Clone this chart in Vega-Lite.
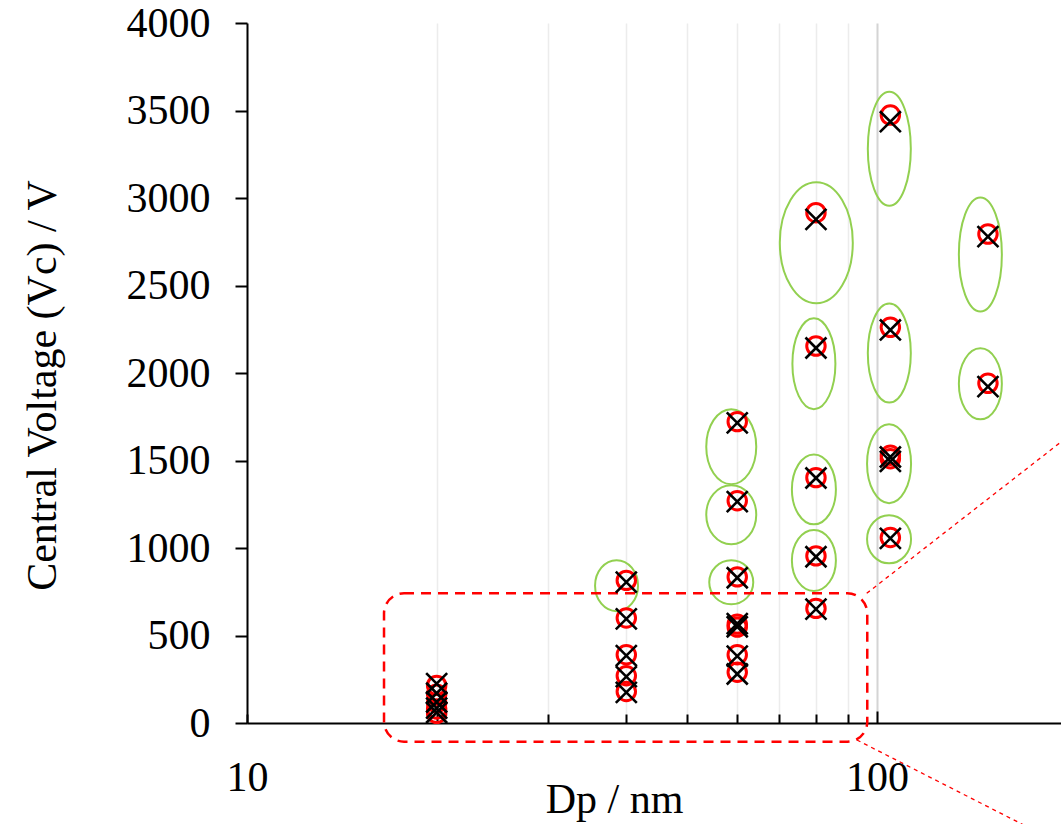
{
  "$schema": "https://vega.github.io/schema/vega-lite/v6.json",
  "autosize": {"type": "none"},
  "padding": {"left": 247, "top": 23, "right": 0, "bottom": 101},
  "width": 814,
  "height": 700,
  "background": "white",
  "config": {"view": {"stroke": null}, "font": "Liberation Serif"},
  "datasets": {
    "pts": [
      {"Dp": 20, "V": 215, "series": "circle"}, {"Dp": 20, "V": 165, "series": "circle"}, {"Dp": 20, "V": 115, "series": "circle"}, {"Dp": 20, "V": 80, "series": "circle"}, {"Dp": 20, "V": 55, "series": "circle"},
      {"Dp": 40, "V": 815, "series": "circle"}, {"Dp": 40, "V": 600, "series": "circle"}, {"Dp": 40, "V": 390, "series": "circle"}, {"Dp": 40, "V": 270, "series": "circle"}, {"Dp": 40, "V": 180, "series": "circle"},
      {"Dp": 60, "V": 1722, "series": "circle"}, {"Dp": 60, "V": 1270, "series": "circle"}, {"Dp": 60, "V": 835, "series": "circle"}, {"Dp": 60, "V": 565, "series": "circle"}, {"Dp": 60, "V": 548, "series": "circle"}, {"Dp": 60, "V": 390, "series": "circle"}, {"Dp": 60, "V": 290, "series": "circle"},
      {"Dp": 80, "V": 2916, "series": "circle"}, {"Dp": 80, "V": 2154, "series": "circle"}, {"Dp": 80, "V": 1402, "series": "circle"}, {"Dp": 80, "V": 955, "series": "circle"}, {"Dp": 80, "V": 655, "series": "circle"},
      {"Dp": 105, "V": 3474, "series": "circle"}, {"Dp": 105, "V": 2261, "series": "circle"}, {"Dp": 105, "V": 1530, "series": "circle"}, {"Dp": 105, "V": 1510, "series": "circle"}, {"Dp": 105, "V": 1060, "series": "circle"},
      {"Dp": 150, "V": 2794, "series": "circle"}, {"Dp": 150, "V": 1941, "series": "circle"},
      {"Dp": 20, "V": 225, "series": "cross"}, {"Dp": 20, "V": 170, "series": "cross"}, {"Dp": 20, "V": 120, "series": "cross"}, {"Dp": 20, "V": 85, "series": "cross"}, {"Dp": 20, "V": 60, "series": "cross"},
      {"Dp": 40, "V": 805, "series": "cross"}, {"Dp": 40, "V": 595, "series": "cross"}, {"Dp": 40, "V": 385, "series": "cross"}, {"Dp": 40, "V": 265, "series": "cross"}, {"Dp": 40, "V": 175, "series": "cross"},
      {"Dp": 60, "V": 1715, "series": "cross"}, {"Dp": 60, "V": 1265, "series": "cross"}, {"Dp": 60, "V": 830, "series": "cross"}, {"Dp": 60, "V": 568, "series": "cross"}, {"Dp": 60, "V": 550, "series": "cross"}, {"Dp": 60, "V": 382, "series": "cross"}, {"Dp": 60, "V": 280, "series": "cross"},
      {"Dp": 80, "V": 2878, "series": "cross"}, {"Dp": 80, "V": 2143, "series": "cross"}, {"Dp": 80, "V": 1400, "series": "cross"}, {"Dp": 80, "V": 950, "series": "cross"}, {"Dp": 80, "V": 651, "series": "cross"},
      {"Dp": 105, "V": 3436, "series": "cross"}, {"Dp": 105, "V": 2246, "series": "cross"}, {"Dp": 105, "V": 1520, "series": "cross"}, {"Dp": 105, "V": 1495, "series": "cross"}, {"Dp": 105, "V": 1055, "series": "cross"},
      {"Dp": 150, "V": 2779, "series": "cross"}, {"Dp": 150, "V": 1922, "series": "cross"}
    ],
    "groups": [
      {"Dp": 38.6, "V": 785, "id": "e1"},
      {"Dp": 58.7, "V": 804, "id": "e2"},
      {"Dp": 58.7, "V": 1190, "id": "e3"},
      {"Dp": 58.7, "V": 1579, "id": "e4"},
      {"Dp": 79.4, "V": 929, "id": "e5"},
      {"Dp": 79.4, "V": 1335, "id": "e6"},
      {"Dp": 79.4, "V": 2053, "id": "e7"},
      {"Dp": 80.1, "V": 2744, "id": "e8"},
      {"Dp": 104.6, "V": 3281, "id": "e9"},
      {"Dp": 104.6, "V": 2114, "id": "e10"},
      {"Dp": 104.5, "V": 1482, "id": "e11"},
      {"Dp": 104.5, "V": 1050, "id": "e12"},
      {"Dp": 145.9, "V": 2677, "id": "e13"},
      {"Dp": 145.9, "V": 1938, "id": "e14"}
    ],
    "zoombox": [{"x1": 16.5, "x2": 96.5, "y1": 741, "y2": -107}],
    "leaders": [
      {"xa": 96.3, "ya": 741, "xb": 226.2, "yb": 1781},
      {"xa": 92.9, "ya": -97, "xb": 226.2, "yb": -806}
    ]
  },
  "layer": [
    {
      "data": {"name": "groups"},
      "mark": {"type": "point", "filled": false, "stroke": "#92d050", "strokeWidth": 2, "opacity": 1, "size": 4},
      "encoding": {
        "x": {
          "field": "Dp", "type": "quantitative",
          "scale": {"type": "log", "domain": [10, 195.9], "nice": false},
          "axis": {
            "title": "Dp / nm",
            "values": [10, 20, 30, 40, 50, 60, 70, 80, 90, 100],
            "labelExpr": "datum.value == 10 ? '10' : (datum.value == 100 ? '100' : '')",
            "labelFlush": false,
            "labelOverlap": false,
            "labelFont": "Liberation Serif",
            "labelFontSize": 42,
            "labelColor": "#000000",
            "labelBaseline": "top",
            "labelPadding": {"condition": {"test": "datum.value == 100", "value": 46}, "value": 43},
            "tickSize": {"condition": {"test": "datum.value == 100", "value": -12}, "value": -9},
            "tickColor": "#000000",
            "tickWidth": 2,
            "domainColor": "#000000",
            "domainWidth": 2,
            "grid": true,
            "gridColor": {"condition": {"test": "datum.value == 100", "value": "#d4d4d4"}, "value": "#ececec"},
            "gridWidth": {"condition": {"test": "datum.value == 100", "value": 2}, "value": 1.5},
            "titleFont": "Liberation Serif",
            "titleFontSize": 42,
            "titleFontWeight": "normal",
            "titleColor": "#000000",
            "titleX": 367,
            "titleY": 89,
            "titleAlign": "center",
            "titleBaseline": "alphabetic"
          }
        },
        "y": {
          "field": "V", "type": "quantitative",
          "scale": {"domain": [0, 4000], "nice": false, "zero": false},
          "axis": {
            "title": "Central Voltage (Vc) / V",
            "values": [0, 500, 1000, 1500, 2000, 2500, 3000, 3500, 4000],
            "format": "d",
            "grid": false,
            "labelFont": "Liberation Serif",
            "labelFontSize": 42,
            "labelColor": "#000000",
            "labelPadding": 25,
            "tickSize": 12,
            "tickColor": "#000000",
            "tickWidth": 2,
            "domainColor": "#000000",
            "domainWidth": 2,
            "titleFont": "Liberation Serif",
            "titleFontSize": 42,
            "titleFontWeight": "normal",
            "titleColor": "#000000",
            "titleAngle": -90,
            "titleX": -192,
            "titleY": 362,
            "titleAlign": "center",
            "titleBaseline": "alphabetic"
          }
        },
        "shape": {
          "field": "id", "type": "nominal", "legend": null,
          "scale": {
            "domain": ["e1","e2","e3","e4","e5","e6","e7","e8","e9","e10","e11","e12","e13","e14"],
            "range": [
              "M-21.5,0A21.5,25.5 0 1,0 21.5,0A21.5,25.5 0 1,0 -21.5,0Z",
              "M-22,0A22,22 0 1,0 22,0A22,22 0 1,0 -22,0Z",
              "M-25,0A25,29.5 0 1,0 25,0A25,29.5 0 1,0 -25,0Z",
              "M-25,0A25,37.5 0 1,0 25,0A25,37.5 0 1,0 -25,0Z",
              "M-22,0A22,30.5 0 1,0 22,0A22,30.5 0 1,0 -22,0Z",
              "M-22,0A22,35 0 1,0 22,0A22,35 0 1,0 -22,0Z",
              "M-21.5,0A21.5,45.5 0 1,0 21.5,0A21.5,45.5 0 1,0 -21.5,0Z",
              "M-36.5,0A36.5,60.5 0 1,0 36.5,0A36.5,60.5 0 1,0 -36.5,0Z",
              "M-21.5,0A21.5,57 0 1,0 21.5,0A21.5,57 0 1,0 -21.5,0Z",
              "M-21.5,0A21.5,49.5 0 1,0 21.5,0A21.5,49.5 0 1,0 -21.5,0Z",
              "M-22,0A22,39.5 0 1,0 22,0A22,39.5 0 1,0 -22,0Z",
              "M-22,0A22,24 0 1,0 22,0A22,24 0 1,0 -22,0Z",
              "M-21.5,0A21.5,57 0 1,0 21.5,0A21.5,57 0 1,0 -21.5,0Z",
              "M-21.5,0A21.5,35.5 0 1,0 21.5,0A21.5,35.5 0 1,0 -21.5,0Z"
            ]
          }
        }
      }
    },
    {
      "data": {"name": "zoombox"},
      "mark": {"type": "rect", "fill": null, "fillOpacity": 0, "stroke": "#ff0000", "strokeWidth": 2.5, "strokeDash": [10, 7], "cornerRadius": 20},
      "encoding": {
        "x": {"field": "x1", "type": "quantitative"},
        "x2": {"field": "x2"},
        "y": {"field": "y1", "type": "quantitative"},
        "y2": {"field": "y2"}
      }
    },
    {
      "data": {"name": "leaders"},
      "mark": {"type": "rule", "stroke": "#ff0000", "strokeWidth": 1.3, "strokeDash": [4, 4]},
      "encoding": {
        "x": {"field": "xa", "type": "quantitative"},
        "x2": {"field": "xb"},
        "y": {"field": "ya", "type": "quantitative"},
        "y2": {"field": "yb"}
      }
    },
    {
      "data": {"name": "pts"},
      "transform": [{"filter": "datum.series == 'circle'"}],
      "mark": {"type": "point", "shape": "circle", "filled": false, "stroke": "#ff0000", "strokeWidth": 3, "opacity": 1, "size": 340},
      "encoding": {
        "x": {"field": "Dp", "type": "quantitative"},
        "y": {"field": "V", "type": "quantitative"}
      }
    },
    {
      "data": {"name": "pts"},
      "transform": [{"filter": "datum.series == 'cross'"}],
      "mark": {"type": "point", "shape": "M-1,-1L1,1M-1,1L1,-1", "filled": false, "stroke": "#000000", "strokeWidth": 2.6, "opacity": 1, "size": 440},
      "encoding": {
        "x": {"field": "Dp", "type": "quantitative"},
        "y": {"field": "V", "type": "quantitative"}
      }
    }
  ]
}
